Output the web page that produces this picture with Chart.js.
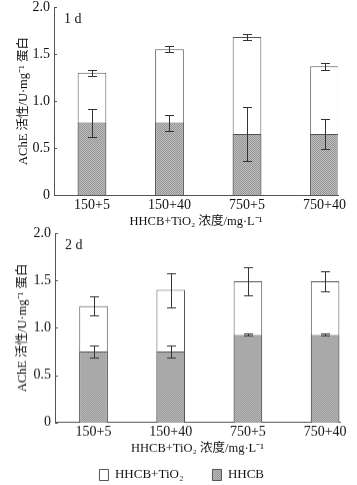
<!DOCTYPE html>
<html><head><meta charset="utf-8">
<script src="https://cdn.jsdelivr.net/npm/chart.js@4"></script>
<style>
html,body{margin:0;padding:0;background:#fff;width:357px;height:485px;overflow:hidden;position:relative}
.box{position:absolute;left:0;width:357px}
#b1{top:-4px;height:232px}
#b2{top:222px;height:268.5px}
</style></head><body>
<div class="box" id="b1"><canvas id="c1"></canvas></div>
<div class="box" id="b2"><canvas id="c2"></canvas></div>
<script>
const categories = ['150+5', '150+40', '750+5', '750+40'];
const seriesNames = ['HHCB+TiO₂', 'HHCB'];
const day1Total = [1.30, 1.55, 1.68, 1.37];
const day1TotalErr = [0.035, 0.03, 0.03, 0.035];
const day1HHCB = [0.77, 0.77, 0.65, 0.65];
const day1HHCBErr = [0.15, 0.085, 0.29, 0.16];
const day2Total = [1.23, 1.40, 1.49, 1.49];
const day2TotalErr = [0.10, 0.18, 0.145, 0.11];
const day2HHCB = [0.75, 0.75, 0.925, 0.925];
const day2HHCBErr = [0.065, 0.065, 0.01, 0.01];
const yTicks = [0, 0.5, 1.0, 1.5, 2.0];
const panelLabels = ['1 d', '2 d'];
const yTitle = 'AChE 活性/U·mg⁻¹ 蛋白';
const xTitle = 'HHCB+TiO₂ 浓度/mg·L⁻¹';

const FAM = '"Liberation Serif", "Noto Sans CJK SC", serif';
const TXT = '#111';
const LINE = '#555';

function hatch() {
  const c = document.createElement('canvas');
  c.width = 2; c.height = 2;
  const g = c.getContext('2d');
  g.fillStyle = '#bcbcbc'; g.fillRect(0, 0, 2, 2);
  g.fillStyle = '#979797'; g.fillRect(0, 0, 1, 1); g.fillRect(1, 1, 1, 1);
  return g.createPattern(c, 'repeat');
}
const grayFill = hatch();

const errPlugin = {
  id: 'errbars',
  afterDatasetsDraw(chart, args, opts) {
    const ctx = chart.ctx, x = chart.scales.x, y = chart.scales.y;
    ctx.save();
    ctx.strokeStyle = '#333'; ctx.lineWidth = 1;
    ctx.beginPath();
    opts.sets.forEach(s => {
      s.values.forEach((v, i) => {
        const px = Math.round(x.getPixelForValue(i)) + 0.5;
        const hi = Math.round(y.getPixelForValue(v + s.err[i])) + 0.5;
        const lo = Math.round(y.getPixelForValue(v - s.err[i])) + 0.5;
        ctx.moveTo(px, hi); ctx.lineTo(px, lo);
        ctx.moveTo(px - 4.5, hi); ctx.lineTo(px + 4.5, hi);
        ctx.moveTo(px - 4.5, lo); ctx.lineTo(px + 4.5, lo);
      });
    });
    ctx.stroke();
    ctx.strokeStyle = LINE;
    ctx.beginPath();
    yTicks.forEach(t => {
      const py = Math.round(y.getPixelForValue(t)) + 0.5;
      ctx.moveTo(x.left, py); ctx.lineTo(x.left + 3, py);
    });
    ctx.stroke();
    ctx.fillStyle = TXT;
    ctx.font = '14px ' + FAM;
    ctx.textBaseline = 'middle';
    ctx.fillText(opts.label, x.left + 10, y.top + 12);
    ctx.restore();
  }
};

function make(id, total, totalErr, hhcb, hhcbErr, label, L) {
  return new Chart(document.getElementById(id), {
    type: 'bar',
    data: {
      datasets: [
        { label: seriesNames[0], data: total.map((v, i) => ({ x: i, y: v })),
          backgroundColor: '#ffffff', borderColor: LINE, borderWidth: 1, order: 1,
          barPercentage: 0.37, categoryPercentage: 1 },
        { label: seriesNames[1], data: hhcb.map((v, i) => ({ x: i, y: v })),
          backgroundColor: grayFill, borderColor: LINE, borderWidth: 1, order: 0,
          barPercentage: 0.37, categoryPercentage: 1 }
      ]
    },
    options: {
      responsive: true, maintainAspectRatio: false, animation: false,
      layout: { padding: { top: 0, left: L.padLeft, right: L.padRight, bottom: 0 } },
      plugins: {
        tooltip: { enabled: false },
        legend: {
          display: L.legend, position: 'bottom',
          labels: { boxWidth: 9, boxHeight: 11, color: TXT, padding: 29,
            font: { family: FAM, size: 13 },
            sort: (a, b) => a.datasetIndex - b.datasetIndex }
        },
        errbars: { label: label, sets: [
          { values: total, err: totalErr }, { values: hhcb, err: hhcbErr } ] }
      },
      scales: {
        x: {
          type: 'linear', min: L.xMin, max: L.xMax, stacked: true, offset: false,
          afterBuildTicks: s => { s.ticks = categories.map((c, i) => ({ value: i })); },
          ticks: { callback: v => categories[v], color: TXT, padding: 3, maxRotation: 0, autoSkip: false,
            font: { family: FAM, size: 14, lineHeight: 1 } },
          grid: { display: false, drawTicks: false, offset: false },
          border: { color: LINE, width: 1 },
          title: { display: true, text: xTitle, color: TXT, padding: { top: 0, bottom: L.titleGap },
            font: { family: FAM, size: 12.5, lineHeight: 1 } },
          afterFit: s => { s.height = L.xH; }
        },
        y: {
          min: 0, max: 2, stacked: false,
          afterBuildTicks: s => { s.ticks = yTicks.map(v => ({ value: v })); },
          ticks: { callback: v => (v === 0 ? '0' : v.toFixed(1)), color: TXT, padding: 4,
            font: { family: FAM, size: 14, lineHeight: 1 } },
          grid: { display: false, drawTicks: false },
          border: { color: LINE, width: 1 },
          title: { display: true, text: yTitle, color: TXT, padding: { top: L.yTitlePad, bottom: 0 },
            font: { family: FAM, size: 12.5, lineHeight: 1 } },
          afterFit: s => { s.width = L.yW; }
        }
      }
    },
    plugins: [errPlugin]
  });
}

make('c1', day1Total, day1TotalErr, day1HHCB, day1HHCBErr, panelLabels[0],
  { padLeft: 0, padRight: 19, yW: 54, yTitlePad: 17, xMin: -0.49, xMax: 3.174, xH: 33, titleGap: 0, legend: false });
make('c2', day2Total, day2TotalErr, day2HHCB, day2HHCBErr, panelLabels[1],
  { padLeft: 23.5, padRight: 17, yW: 31.5, yTitlePad: -6.75, xMin: -0.499, xMax: 3.193, xH: 16.8, titleGap: -15.75, legend: true });
</script>
</body></html>
